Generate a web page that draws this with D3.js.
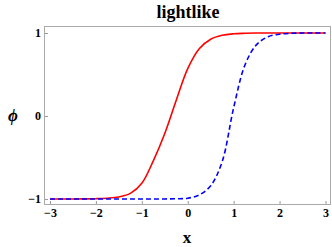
<!DOCTYPE html>
<html>
<head>
<meta charset="utf-8">
<script src="https://cdn.jsdelivr.net/npm/d3@7"></script>
<style>
  body { margin: 0; background: #fff; }
  svg { display: block; }
  .tick text { font-family: "Liberation Serif", "Times New Roman", serif; font-weight: bold; font-size: 12px; fill: #000; }
  .tick line { stroke: #999; }
</style>
</head>
<body>
<svg id="chart" width="332" height="247"></svg>
<script>
// values
const xs = [-3, -2.75, -2.5, -2.25, -2, -1.75, -1.5, -1.25, -1, -0.75, -0.5, -0.25,
            0, 0.25, 0.5, 0.75, 1, 1.25, 1.5, 1.75, 2, 2.25, 2.5, 2.75, 3]
const phiRed = [-1, -1, -0.999, -0.998, -0.996, -0.99, -0.975, -0.932, -0.81, -0.54, -0.21, 0.19,
                0.57, 0.81, 0.925, 0.972, 0.99, 0.996, 0.999, 1, 1, 1, 1, 1, 1]
const phiBlue = [-1, -1, -1, -1, -1, -1, -1, -1, -1, -1, -0.999, -0.997,
                 -0.99, -0.95, -0.84, -0.55, 0.1, 0.62, 0.86, 0.955, 0.985, 0.996, 0.999, 1, 1]
const xTicks = [-3, -2, -1, 0, 1, 2, 3]
const yTicks = [-1, 0, 1]
const title = "lightlike"

const svg = d3.select("#chart")
const box = {left: 44, right: 331, top: 26, bottom: 205}

let scX = d3.scaleLinear().domain([-3.13, 3.12]).range([box.left, box.right])
let scY = d3.scaleLinear().domain([-1.072, 1.084]).range([box.bottom, box.top])

const fmt = d => d < 0 ? "\u2212" + Math.abs(d) : String(d)

// оси
let gx = svg.append("g")
    .attr("transform", `translate(0, ${box.bottom})`)
    .call(d3.axisBottom(scX).tickValues(xTicks).tickSize(-4).tickPadding(3).tickFormat(fmt))
gx.select(".domain").remove()

let gy = svg.append("g")
    .attr("transform", `translate(${box.left}, 0)`)
    .call(d3.axisLeft(scY).tickValues(yTicks).tickSize(-4).tickPadding(3).tickFormat(fmt))
gy.select(".domain").remove()

// рамка
svg.append("rect")
    .attr("x", box.left + 0.5)
    .attr("y", box.top + 0.5)
    .attr("width", box.right - box.left - 1)
    .attr("height", box.bottom - box.top - 1)
    .style("fill", "none")
    .style("stroke", "#aaa")

const lineGen = (ys) => d3.line()
    .x((d, i) => scX(xs[i]))
    .y(d => scY(d))
    .curve(d3.curveCatmullRom.alpha(0.5))(ys)

svg.append("path")
    .attr("d", lineGen(phiRed))
    .style("fill", "none")
    .style("stroke", "#ff0000")
    .style("stroke-width", 1.6)

svg.append("path")
    .attr("d", lineGen(phiBlue))
    .style("fill", "none")
    .style("stroke", "#0000ff")
    .style("stroke-width", 1.6)
    .style("stroke-dasharray", "5,3")

svg.append("text")
    .attr("x", 188).attr("y", 18)
    .attr("text-anchor", "middle")
    .style("font-family", "'Liberation Serif', serif")
    .style("font-weight", "bold")
    .style("font-size", "18px")
    .text(title)

svg.append("text")
    .attr("x", 187).attr("y", 243)
    .attr("text-anchor", "middle")
    .style("font-family", "'Liberation Serif', serif")
    .style("font-weight", "bold")
    .style("font-size", "17px")
    .text("x")

svg.append("text")
    .attr("x", 13).attr("y", 121)
    .attr("text-anchor", "middle")
    .style("font-family", "'Liberation Serif', serif")
    .style("font-weight", "bold")
    .style("font-style", "italic")
    .style("font-size", "17px")
    .text("\u03d5")
</script>
</body>
</html>
